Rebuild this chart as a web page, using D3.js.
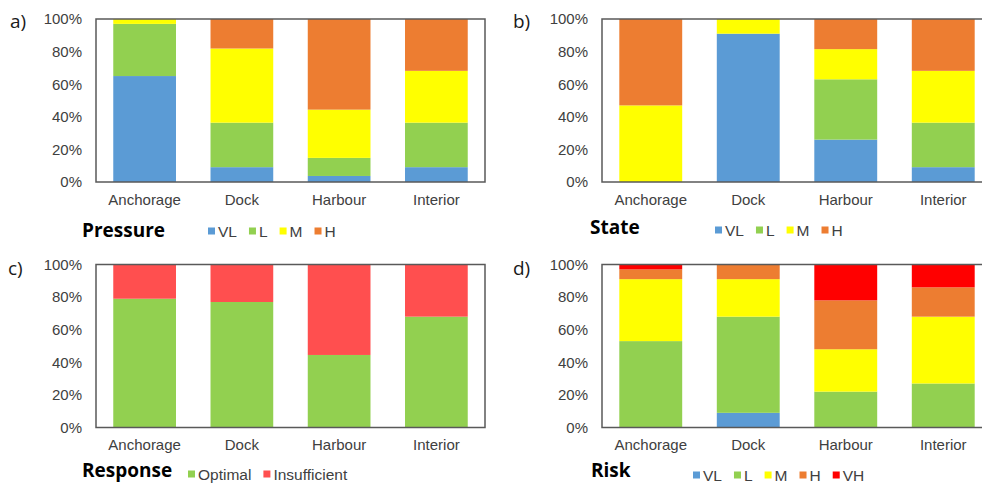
<!DOCTYPE html>
<html>
<head>
<meta charset="utf-8">
<script src="https://cdn.jsdelivr.net/npm/d3@7.9.0/dist/d3.min.js"></script>
<style>
  html, body { margin: 0; padding: 0; background: #fff; overflow: hidden; }
  svg { display: block; }
</style>
</head>
<body>
<svg id="chart" width="982" height="483"></svg>
<script>
// Data (percent of items per category)
const categories = ['Anchorage', 'Dock', 'Harbour', 'Interior'];
const yTicks = [0, 20, 40, 60, 80, 100];

const pressureVL = [65, 9.1, 3.7, 9.1];
const pressureL = [32, 27.3, 11.1, 27.3];
const pressureM = [3, 45.5, 29.6, 31.8];
const pressureH = [0, 18.1, 55.6, 31.8];

const stateVL = [0, 91, 26, 9.1];
const stateL = [0, 0, 37, 27.3];
const stateM = [47, 9, 18.5, 31.8];
const stateH = [53, 0, 18.5, 31.8];

const responseOptimal = [79, 77, 44.5, 68];
const responseInsufficient = [21, 23, 55.5, 32];

const riskVL = [0, 9, 0, 0];
const riskL = [53, 59, 22, 27];
const riskM = [38, 23, 26, 41];
const riskH = [6, 9, 30, 18];
const riskVH = [3, 0, 22, 14];

const colors = {
  VL: '#5b9bd5',
  L: '#92d050',
  M: '#ffff00',
  H: '#ed7d31',
  VH: '#ff0000',
  Optimal: '#92d050',
  Insufficient: '#ff4f4f',
};

const panels = [
  {
    tag: 'a)', title: 'Pressure',
    series: { VL: pressureVL, L: pressureL, M: pressureM, H: pressureH },
    box: { x: 96, y: 19, w: 389, h: 163 },
    tagPos: [10, 28], titlePos: [82, 237], legendPos: [208, 231],
  },
  {
    tag: 'b)', title: 'State',
    series: { VL: stateVL, L: stateL, M: stateM, H: stateH },
    box: { x: 602, y: 19, w: 390, h: 163 },
    tagPos: [513, 28], titlePos: [590, 234], legendPos: [715, 230],
  },
  {
    tag: 'c)', title: 'Response',
    series: { Optimal: responseOptimal, Insufficient: responseInsufficient },
    box: { x: 96, y: 264.5, w: 389, h: 163 },
    tagPos: [8, 275], titlePos: [82, 477], legendPos: [188, 474],
  },
  {
    tag: 'd)', title: 'Risk',
    series: { VL: riskVL, L: riskL, M: riskM, H: riskH, VH: riskVH },
    box: { x: 602, y: 264.5, w: 390, h: 163 },
    tagPos: [513, 275], titlePos: [591, 477], legendPos: [693, 475],
  },
];

const svg = d3.select('#chart');
const textColor = '#404040';
const frameColor = '#595959';

function drawPanel(p) {
  const keys = Object.keys(p.series);
  const rows = categories.map((c, i) => {
    const row = { category: c };
    keys.forEach((k) => (row[k] = p.series[k][i]));
    return row;
  });
  const stacked = d3.stack().keys(keys)(rows);

  const x = d3
    .scaleBand()
    .domain(categories)
    .range([p.box.x, p.box.x + p.box.w])
    .paddingInner(0.355)
    .paddingOuter(0.1775);

  const y = d3
    .scaleLinear()
    .domain([0, 100])
    .range([p.box.y + p.box.h, p.box.y]);

  const g = svg.append('g');

  // Bars
  g.selectAll('g.layer')
    .data(stacked)
    .join('g')
    .attr('class', 'layer')
    .attr('fill', (d) => colors[d.key])
    .selectAll('rect')
    .data((d) => d)
    .join('rect')
    .attr('x', (d) => x(d.data.category))
    .attr('y', (d) => y(d[1]))
    .attr('width', x.bandwidth())
    .attr('height', (d) => y(d[0]) - y(d[1]));

  // Frame
  g.append('rect')
    .attr('x', p.box.x)
    .attr('y', p.box.y)
    .attr('width', p.box.w)
    .attr('height', p.box.h)
    .attr('fill', 'none')
    .attr('stroke', frameColor)
    .attr('stroke-width', 1.5);

  // Axes
  const yAxis = g
    .append('g')
    .attr('transform', `translate(${p.box.x},0)`)
    .call(
      d3.axisLeft(y).tickValues(yTicks).tickSize(0).tickPadding(14)
        .tickFormat((d) => d + '%'),
    );
  const xAxis = g
    .append('g')
    .attr('transform', `translate(0,${p.box.y + p.box.h})`)
    .call(d3.axisBottom(x).tickSize(0).tickPadding(12));

  [yAxis, xAxis].forEach((a) => {
    a.select('.domain').remove();
    a.selectAll('text')
      .attr('fill', textColor)
      .style('font-family', '"Liberation Sans", Arial, sans-serif')
      .style('font-size', '15px');
  });

  // Panel tag
  g.append('text')
    .attr('x', p.tagPos[0])
    .attr('y', p.tagPos[1])
    .attr('fill', '#1a1a1a')
    .style('font-family', '"Open Sans", sans-serif')
    .style('font-size', '19px')
    .text(p.tag);

  // Title
  g.append('text')
    .attr('x', p.titlePos[0])
    .attr('y', p.titlePos[1])
    .attr('fill', '#000')
    .style('font-family', '"Open Sans", sans-serif')
    .style('font-weight', 'bold')
    .style('font-size', '19px')
    .text(p.title);

  // Legend
  let lx = p.legendPos[0];
  const ly = p.legendPos[1];
  keys.forEach((k) => {
    g.append('rect')
      .attr('x', lx)
      .attr('y', ly - 3.5)
      .attr('width', 7)
      .attr('height', 7)
      .attr('fill', colors[k]);
    const t = g
      .append('text')
      .attr('x', lx + 10)
      .attr('y', ly)
      .attr('dy', '0.36em')
      .attr('fill', textColor)
      .style('font-family', '"Liberation Sans", Arial, sans-serif')
      .style('font-size', '15.5px')
      .text(k);
    lx += 10 + t.node().getComputedTextLength() + 12;
  });
}

panels.forEach(drawPanel);
</script>
</body>
</html>
